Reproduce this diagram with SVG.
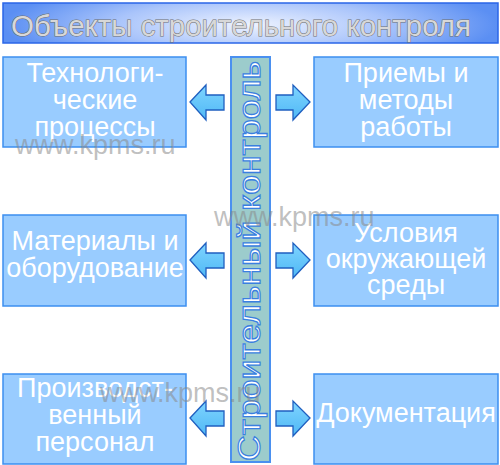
<svg xmlns="http://www.w3.org/2000/svg" width="500" height="465" viewBox="0 0 500 465">
<defs>
<radialGradient id="tg" cx="0.5" cy="0.55" r="0.5" gradientTransform="translate(0.5 0.55) scale(1 2.2) translate(-0.5 -0.55)">
<stop offset="0" stop-color="#eef3ff"/>
<stop offset="0.55" stop-color="#a9c4fb"/>
<stop offset="1" stop-color="#5b8ff3"/>
</radialGradient>
<linearGradient id="ag" x1="0" y1="0" x2="0" y2="1">
<stop offset="0" stop-color="#7fd4ff"/>
<stop offset="1" stop-color="#4fb8f5"/>
</linearGradient>
</defs>
<style>
.box{fill:#99ccff;stroke:#3d8ff0;stroke-width:1.5}
.bt{font-family:"Liberation Sans",Arial,sans-serif;font-size:27px;fill:#ffffff;text-anchor:middle}
.arr{fill:url(#ag);stroke:#1f5fc0;stroke-width:1.3;stroke-linejoin:miter}
.wm{font-family:"Liberation Sans",Arial,sans-serif;font-size:27px;fill:#8a8a8a;fill-opacity:0.55}
</style>
<rect width="500" height="465" fill="#ffffff"/>
<g id="title">
<rect x="3" y="3" width="495" height="40" fill="url(#tg)" stroke="#2a66e8" stroke-width="1.5"/>
<text x="11" y="36" font-family="'Liberation Sans',Arial,sans-serif" font-size="30" fill="#d8d8d8" stroke="#6e6e6e" stroke-width="1" paint-order="stroke" textLength="460" lengthAdjust="spacingAndGlyphs">Объекты строительного контроля</text>
</g>
<g id="center-bar">
<rect x="231" y="57" width="39" height="405" fill="#9ccccc" stroke="#4a90f0" stroke-width="2"/>
<text transform="translate(260 461) rotate(-90)" x="0" y="0" font-family="'Liberation Sans',Arial,sans-serif" font-size="32" fill="#ffffff" stroke="#3a7fe0" stroke-width="1.2" textLength="400" lengthAdjust="spacingAndGlyphs">Строительный контроль</text>
</g>
<g id="n-tech">
<rect class="box" x="3" y="57" width="183" height="90"/>
<text class="bt" x="95" y="82">Технологи-</text>
<text class="bt" x="95" y="109">ческие</text>
<text class="bt" x="95" y="136">процессы</text>
</g>
<g id="n-methods">
<rect class="box" x="314" y="57" width="184" height="90"/>
<text class="bt" x="406" y="82">Приемы и</text>
<text class="bt" x="406" y="109">методы</text>
<text class="bt" x="406" y="136">работы</text>
</g>
<g id="n-materials">
<rect class="box" x="3" y="215" width="183" height="91"/>
<text class="bt" x="95" y="250">Материалы и</text>
<text class="bt" x="95" y="277">оборудование</text>
</g>
<g id="n-environment">
<rect class="box" x="314" y="215" width="184" height="91"/>
<text class="bt" x="406" y="242">Условия</text>
<text class="bt" x="406" y="268">окружающей</text>
<text class="bt" x="406" y="294">среды</text>
</g>
<g id="n-personnel">
<rect class="box" x="3" y="374" width="183" height="90"/>
<text class="bt" x="95" y="397">Производст-</text>
<text class="bt" x="95" y="424">венный</text>
<text class="bt" x="95" y="451">персонал</text>
</g>
<g id="n-docs">
<rect class="box" x="314" y="374" width="184" height="90"/>
<text class="bt" x="406" y="422">Документация</text>
</g>
<g id="connectors">
<path class="arr" d="M190,102 L206,85 L206,95 L224,95 L224,110 L206,110 L206,120 Z"/>
<path class="arr" d="M310,102 L293,85 L293,95 L276,95 L276,110 L293,110 L293,120 Z"/>
<path class="arr" d="M190,260 L206,243 L206,253 L224,253 L224,268 L206,268 L206,278 Z"/>
<path class="arr" d="M310,260 L293,243 L293,253 L276,253 L276,268 L293,268 L293,278 Z"/>
<path class="arr" d="M190,418 L206,401 L206,411 L224,411 L224,426 L206,426 L206,436 Z"/>
<path class="arr" d="M310,418 L293,401 L293,411 L276,411 L276,426 L293,426 L293,436 Z"/>
</g>
<g id="watermarks">
<text class="wm" x="15" y="154">www.kpms.ru</text>
<text class="wm" x="214" y="226">www.kpms.ru</text>
<text class="wm" x="100" y="402">www.kpms.ru</text>
</g>
</svg>
